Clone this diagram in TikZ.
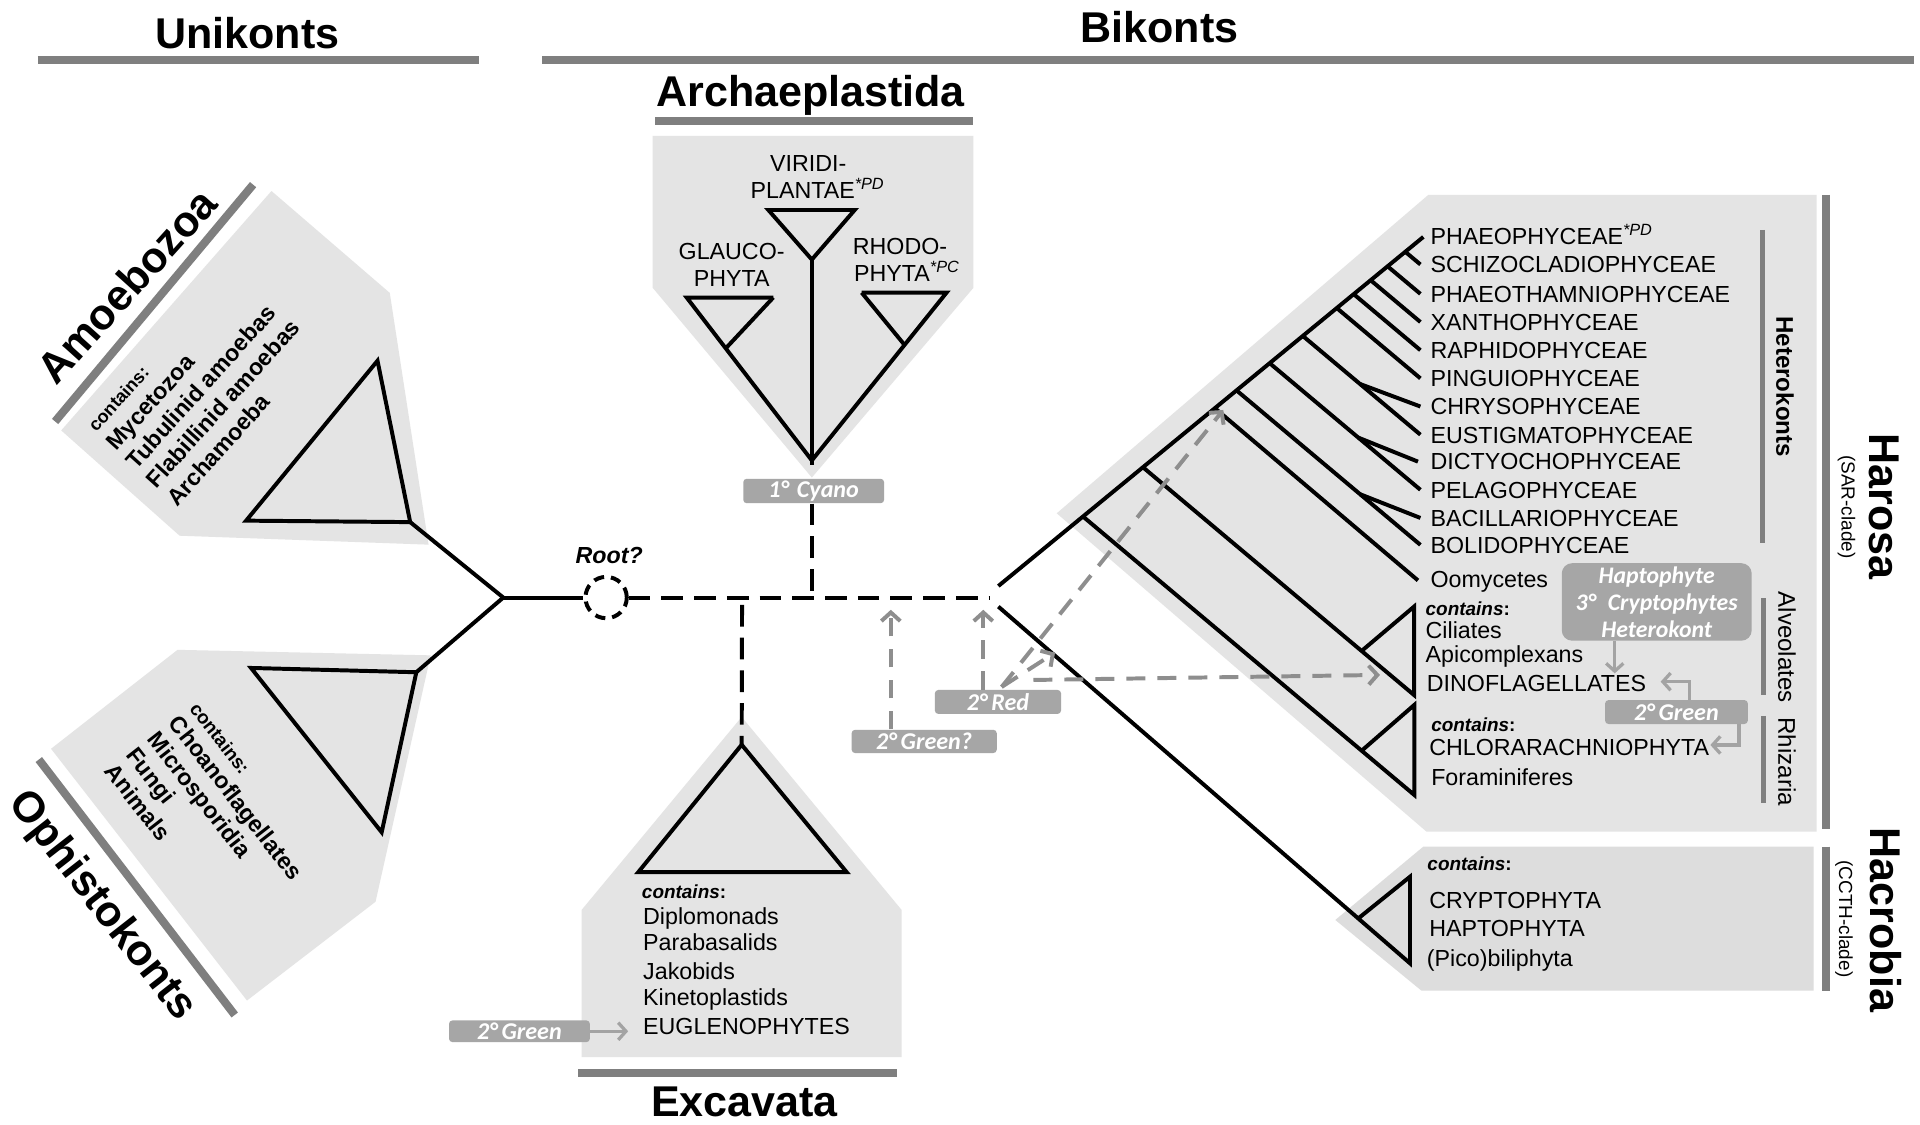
\documentclass[tikz,border=0pt]{standalone}
\usepackage{fontspec}
\setmainfont{Liberation Sans}
\newfontfamily\calfont{Carlito}
\usetikzlibrary{arrows.meta}
\definecolor{regg}{HTML}{E4E4E4}
\definecolor{regh}{HTML}{DDDDDD}
\definecolor{barg}{HTML}{7F7F7F}
\definecolor{boxg}{HTML}{A6A6A6}
\definecolor{arrg}{HTML}{8E8E8E}
\definecolor{arrl}{HTML}{A3A3A3}
\begin{document}
\begin{tikzpicture}[x=0.025cm,y=-0.025cm,
  blk/.style={line width=2.3pt,black,line cap=butt,line join=miter},
  blkdash/.style={blk,dash pattern=on 12.6pt off 6.4pt},
  bar/.style={line width=4.7pt,barg},
  thinbar/.style={line width=2.7pt,barg},
  title/.style={font=\fontsize{25}{30}\selectfont\bfseries,inner sep=0pt,text height=18pt,text depth=0pt},
  lst/.style={font=\fontsize{13.5}{16}\selectfont,inner sep=0pt,anchor=base west},
  blst/.style={lst,font=\fontsize{13.5}{16}\selectfont\bfseries},
  cont/.style={lst,font=\fontsize{11}{13}\selectfont\bfseries},
  side/.style={inner sep=0pt,rotate=-90,font=\fontsize{14}{16}\selectfont,text height=10pt,text depth=0pt},
  lbox/.style={fill=boxg,rounded corners=2pt,inner sep=0pt,text=white,font=\fontsize{14}{15.6}\selectfont\calfont\bfseries\itshape},
  garr/.style={line width=2.3pt,arrg,-{Straight Barb[length=5pt,width=11pt]}},
  gdash/.style={garr,dash pattern=on 11pt off 7pt},
  lgarr/.style={line width=1.9pt,arrl,-{Straight Barb[length=4.5pt,width=10pt]}},
]
\useasboundingbox (0,0) rectangle (1568,918);
\fill[white] (0,0) rectangle (1568,918);

% ---------- regions ----------
\fill[regg] (221.7,156) -- (318.3,239.2) -- (350,444.8) -- (146.7,437.5) -- (50,351.5) -- cycle;
\fill[regg] (145,530.7) -- (351.7,535.2) -- (306.7,736.4) -- (201.7,817.1) -- (41.7,611.5) -- cycle;
\fill[regg] (605.7,585.5) -- (736.3,743.1) -- (736.3,863.3) -- (475,863.3) -- (475,743.1) -- cycle;
\fill[regg] (533,111) -- (795,111) -- (795,235) -- (663,390) -- (533,235) -- cycle;
\fill[regg] (1166.4,159.2) -- (1483.6,159.2) -- (1483.6,679.2) -- (1165,679.2) -- (863,419.2) -- cycle;
\fill[regh] (1162.4,691.4) -- (1481.2,691.4) -- (1481.2,809) -- (1160.8,809) -- (1090.5,751.3) -- cycle;

% ---------- bars ----------
\draw[bar] (31,49) -- (391,49);
\draw[bar] (443,49) -- (1563,49);
\draw[bar] (535,99) -- (795,99);
\draw[bar] (472.3,876.3) -- (732.8,876.3);
\draw[bar] (206.7,150.8) -- (45,344.2);
\draw[bar] (31.7,620.3) -- (191.7,828.9);
\draw[bar] (1491.5,159.2) -- (1491.5,677);
\draw[bar] (1491.5,691.4) -- (1491.5,809);
\draw[thinbar] (1439.5,187.8) -- (1439.5,443.7);
\draw[thinbar] (1440,488.6) -- (1440,567.6);
\draw[thinbar] (1440,584.7) -- (1440,656);

% ---------- titles ----------
\node[title] (tUni) at (202,27) {Unikonts};
\node[title] (tBik) at (947,22) {Bikonts};
\node[title] (tArc) at (662,74) {Archaeplastida};
\node[title] (tExc) at (608,899) {Excavata};
\node[title,rotate=48] (tAmo) at (103.3,233.3) {Amoebozoa};
\node[title,rotate=-52] (tOph) at (86,738) {Ophistokonts};
\node[title,rotate=-90] (tHar) at (1539.4,413.8) {Harosa};
\node[title,rotate=-90] (tHac) at (1540.5,751.3) {Hacrobia};
\node[inner sep=0pt,rotate=-90,font=\fontsize{11}{13}\selectfont] (tSAR) at (1508,414) {(SAR-clade)};
\node[inner sep=0pt,rotate=-90,font=\fontsize{11}{13}\selectfont] (tCCTH) at (1506,750.5) {(CCTH-clade)};
\node[side,font=\fontsize{14}{16}\selectfont\bfseries] (tHet) at (1457.7,315.8) {Heterokonts};
\node[side] (tAlv) at (1459.3,528.6) {Alveolates};
\node[side] (tRhi) at (1459.3,622) {Rhizaria};

% ---------- left part ----------
\coordinate (J) at (411,488);
\coordinate (amA) at (308.3,294.6);
\coordinate (amL) at (201,425.2);
\coordinate (amR) at (335,426.4);
\draw[blk] (amA) -- (amL) -- (amR) -- cycle;
\draw[blk] (amR) -- (J);
\coordinate (opL) at (205,545.5);
\coordinate (opR) at (340,549);
\coordinate (opB) at (311.7,679.7);
\draw[blk] (opL) -- (opR) -- (opB) -- cycle;
\draw[blk] (opR) -- (J);

\node[circle,draw,line width=2.3pt,dash pattern=on 6pt off 4pt,minimum size=24pt,inner sep=0pt] (root) at (495,488) {};
\node[font=\fontsize{13.5}{16}\selectfont\bfseries\itshape,inner sep=0pt] (rootlab) at (497.5,453.8) {Root?};
\draw[blk] (J) -- (root.west);
\coordinate (axE) at (808.5,488);
\coordinate (axA) at (663,488);
\coordinate (axX) at (606,494);
\draw[blkdash] (root.east) -- (axE);

% Amoebozoa list
\node[lst,rotate=48,font=\fontsize{10.5}{12}\selectfont\bfseries] (amC) at (78.5,353.7) {contains:};
\node[blst,rotate=48] (am1) at (95,369) {Mycetozoa};
\node[blst,rotate=48] (am2) at (111.5,384.3) {Tubulinid amoebas};
\node[blst,rotate=48] (am3) at (128,399.6) {Flabillinid amoebas};
\node[blst,rotate=48] (am4) at (144.5,414.9) {Archamoeba};

% Opisthokont list
\node[lst,rotate=-52,font=\fontsize{11}{13}\selectfont\bfseries] (opC) at (154,579) {contains:};
\node[blst,rotate=-52] (op1) at (137,591) {Choanoflagellates};
\node[blst,rotate=-52] (op2) at (119.5,604) {Microsporidia};
\node[blst,rotate=-52] (op3) at (102,617) {Fungi};
\node[blst,rotate=-52] (op4) at (84.5,630) {Animals};

% ---------- Archaeplastida ----------
\coordinate (arR) at (663,376);
\coordinate (arS) at (663,380);
\coordinate (vA) at (663,212);
\coordinate (vL) at (627.5,171.5);
\coordinate (vR) at (698,171.5);
\draw[blk] (vL) -- (vR) -- (vA) -- cycle;
\draw[blk] (vA) -- (arS);
\coordinate (gL) at (560.8,243);
\coordinate (gR) at (631.5,243);
\coordinate (gA) at (592.7,284.5);
\draw[blk] (gR) -- (gL) -- (arR);
\draw[blk] (gR) -- (gA);
\coordinate (rL) at (703.7,239);
\coordinate (rR) at (773,239);
\coordinate (rA) at (738.7,281.7);
\draw[blk] (rL) -- (rR) -- (arR);
\draw[blk] (rL) -- (rA);
\node[lst,anchor=base] (lv1) at (660,139.8) {VIRIDI-};
\node[lst] (lv2) at (612.7,161.8) {PLANTAE\textsuperscript{\itshape *PD}};
\node[lst,anchor=base] (lg1) at (597.5,212.3) {GLAUCO-};
\node[lst,anchor=base] (lg2) at (597.5,233.8) {PHYTA};
\node[lst,anchor=base] (lr1) at (735,207.8) {RHODO-};
\node[lst] (lr2) at (697.3,229.8) {PHYTA\textsuperscript{\itshape *PC}};
\node[lbox,minimum width=81.8pt,minimum height=14.2pt] (cyano) at (664.5,401) {1°\,\,Cyano};
\draw[blkdash] (cyano.south -| axA) -- (axA);

% ---------- Excavata ----------
\coordinate (exA) at (605.7,608.2);
\coordinate (exL) at (521.3,712.2);
\coordinate (exR) at (691.4,712.2);
\draw[blkdash] (axX) -- (exA);
\draw[blk] (exA) -- (exL) -- (exR) -- cycle;
\node[cont] (exC) at (524,734) {\textit{contains}:};
\node[lst] (ex1) at (525,754.7) {Diplomonads};
\node[lst] (ex2) at (525,776.5) {Parabasalids};
\node[lst] (ex3) at (525,799.6) {Jakobids};
\node[lst] (ex4) at (525,821.4) {Kinetoplastids};
\node[lst] (ex5) at (525,844.7) {EUGLENOPHYTES};
\node[lbox,minimum width=81.8pt,minimum height=12.6pt] (greenL) at (424.2,842.2) {2°\,Green};
\coordinate (glT) at (513,842.2);
\draw[lgarr] (greenL.east) -- (glT);

% ---------- SAR / Hacrobia tree ----------
\coordinate (su) at (815.3,478.6);
\coordinate (sl) at (815.3,495.4);
\coordinate (tip1) at (1162.4,193.5);
\draw[blk] (su) -- (tip1);
\coordinate (n2) at (1147.6,205.6);  \coordinate (t2) at (1160,216);
\coordinate (n3) at (1133.2,217.5);  \coordinate (t3) at (1160,240);
\coordinate (n4) at (1119.3,228.8);  \coordinate (t4) at (1160,263);
\coordinate (n5) at (1105.5,240.2);  \coordinate (t5) at (1160,286);
\coordinate (n6) at (1091.6,251.5);  \coordinate (t6) at (1160,309);
\coordinate (n8) at (1064.0,274.4);  \coordinate (t8) at (1160,355);
\coordinate (s7) at (1110.7,313.6);  \coordinate (t7) at (1160,332);
\coordinate (n10) at (1036.9,296.6); \coordinate (t10) at (1160,400);
\coordinate (s9) at (1109.3,357.4);  \coordinate (t9) at (1158,377);
\coordinate (n12) at (1009.8,318.8); \coordinate (t12) at (1160,445);
\coordinate (s11) at (1110.7,403.6); \coordinate (t11) at (1160,423);
\coordinate (n13) at (992.3,333.5);  \coordinate (t13) at (1158,474);
\foreach \a/\b in {n2/t2,n3/t3,n4/t4,n5/t5,n6/t6,n8/t8,s7/t7,n10/t10,s9/t9,n12/t12,s11/t11,n13/t13}
  \draw[blk] (\a) -- (\b);
% Alveolates
\coordinate (nAl) at (933.4,381.6);
\coordinate (alB) at (1154.8,567.6);
\coordinate (alT) at (1154.8,495.4);
\coordinate (alA) at (1112,531.6);
\draw[blk] (nAl) -- (alB) -- (alT) -- (alA);
% Rhizaria
\coordinate (nRh) at (884.4,421.8);
\coordinate (rhB) at (1155,649.2);
\coordinate (rhT) at (1155,575.7);
\coordinate (rhA) at (1112,613.1);
\draw[blk] (nRh) -- (rhB) -- (rhT) -- (rhA);
% Hacrobia
\coordinate (hcB) at (1151.5,786.7);
\coordinate (hcT) at (1151.5,716);
\coordinate (hcA) at (1109.3,750);
\draw[blk] (sl) -- (hcB) -- (hcT) -- (hcA);

% lists
\node[lst] (h1) at (1168,199.8) {PHAEOPHYCEAE\textsuperscript{\itshape *PD}};
\node[lst] (h2) at (1168,222.8) {SCHIZOCLADIOPHYCEAE};
\node[lst] (h3) at (1168,246.8) {PHAEOTHAMNIOPHYCEAE};
\node[lst] (h4) at (1168,269.8) {XANTHOPHYCEAE};
\node[lst] (h5) at (1168,292.8) {RAPHIDOPHYCEAE};
\node[lst] (h6) at (1168,315.8) {PINGUIOPHYCEAE};
\node[lst] (h7) at (1168,338.8) {CHRYSOPHYCEAE};
\node[lst] (h8) at (1168,361.8) {EUSTIGMATOPHYCEAE};
\node[lst] (h9) at (1168,383.8) {DICTYOCHOPHYCEAE};
\node[lst] (h10) at (1168,406.8) {PELAGOPHYCEAE};
\node[lst] (h11) at (1168,429.8) {BACILLARIOPHYCEAE};
\node[lst] (h12) at (1168,451.8) {BOLIDOPHYCEAE};
\node[lst] (h13) at (1168,479.8) {Oomycetes};

\node[cont] (alC) at (1164,502.3) {\textit{contains}:};
\node[lst] (al1) at (1164,521.3) {Ciliates};
\node[lst] (al2) at (1164,540.9) {Apicomplexans};
\node[lst] (al3) at (1165,564.8) {DINOFLAGELLATES};
\node[cont] (rhC) at (1168.6,597.5) {\textit{contains}:};
\node[lst] (rh1) at (1167,616.6) {CHLORARACHNIOPHYTA};
\node[lst] (rh2) at (1168.6,641.1) {Foraminiferes};
\node[cont] (hcC) at (1165.5,710.5) {\textit{contains}:};
\node[lst] (hc1) at (1167,741.8) {CRYPTOPHYTA};
\node[lst] (hc2) at (1167,764.8) {HAPTOPHYTA};
\node[lst] (hc3) at (1165,789.4) {(Pico)biliphyta};

% ---------- plastid arrows ----------
\node[lbox,minimum width=84.3pt,minimum height=13.5pt] (greenq) at (754.75,605.5) {2°\,Green?};
\coordinate (gqTip) at (727.5,498);
\draw[gdash] (greenq.north -| gqTip) -- (gqTip);
\node[lbox,minimum width=73.3pt,minimum height=13.9pt] (red) at (815,573.25) {2°\,Red};
\coordinate (redTip) at (803,498);
\draw[gdash] (red.north -| redTip) -- (redTip);
\coordinate (redS) at (818,561);
\coordinate (hetTip) at (999,334.8);
\coordinate (hacTip) at (861.6,533);
\draw[gdash] (redS) -- (hetTip);
\draw[gdash] (redS) -- (hacTip);
\coordinate (hzS) at (844,555.3);
\coordinate (dinoTip) at (1127,551.2);
\draw[gdash] (hzS) -- (dinoTip);

\node[lbox,rounded corners=6pt,minimum width=110.3pt,minimum height=45pt,align=center,font=\fontsize{13.8}{15.6}\selectfont\calfont\bfseries\itshape] (hapto) at (1353,491.6) {Haptophyte\\3°\,\,\,Cryptophytes\\Heterokont};
\coordinate (hapTip) at (1318.7,549.9);
\draw[lgarr] (hapto.south -| hapTip) -- (hapTip);
\node[lbox,minimum width=82.9pt,minimum height=13.9pt] (greenR) at (1369.1,581.5) {2°\,Green};
\coordinate (gr1) at (1379.6,556.7);
\coordinate (gr1t) at (1356.2,556.7);
\draw[lgarr] (greenR.north -| gr1) -- (gr1) -- (gr1t);
\coordinate (gr2) at (1420.2,608.4);
\coordinate (gr2t) at (1396.8,608.4);
\draw[lgarr] (greenR.south -| gr2) -- (gr2) -- (gr2t);
\end{tikzpicture}
\end{document}
